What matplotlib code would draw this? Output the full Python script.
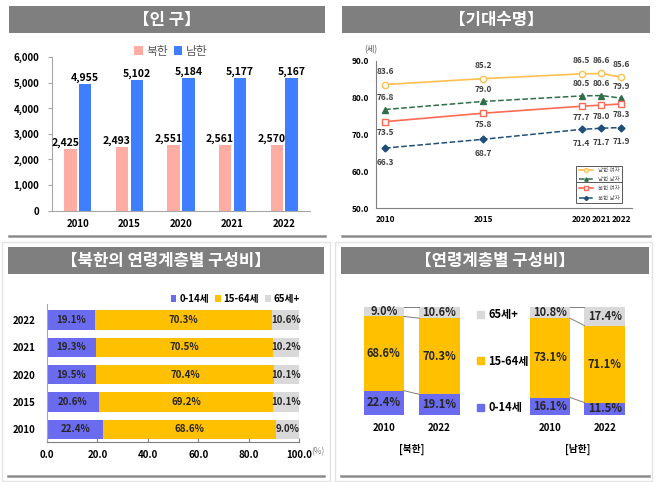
import matplotlib
matplotlib.use('Agg')
import matplotlib.pyplot as plt
from matplotlib.patches import Rectangle, Patch
from matplotlib.lines import Line2D

plt.rcParams['font.family'] = ['Noto Sans CJK KR', 'DejaVu Sans']

# ---- data -------------------------------------------------
pop_years = ['2010', '2015', '2020', '2021', '2022']
pop_north = [2425, 2493, 2551, 2561, 2570]
pop_south = [4955, 5102, 5184, 5177, 5167]

life_years = [2010, 2015, 2020, 2021, 2022]
south_f = [83.6, 85.2, 86.5, 86.6, 85.6]
south_m = [76.8, 79.0, 80.5, 80.6, 79.9]
north_f = [73.5, 75.8, 77.7, 78.0, 78.3]
north_m = [66.3, 68.7, 71.4, 71.7, 71.9]

age_years = ['2010', '2015', '2020', '2021', '2022']
age_014 = [22.4, 20.6, 19.5, 19.3, 19.1]
age_1564 = [68.6, 69.2, 70.4, 70.5, 70.3]
age_65 = [9.0, 10.1, 10.1, 10.2, 10.6]

comp_years = ['2010', '2022']
nk_014 = [22.4, 19.1]
nk_1564 = [68.6, 70.3]
nk_65 = [9.0, 10.6]
sk_014 = [16.1, 11.5]
sk_1564 = [73.1, 71.1]
sk_65 = [10.8, 17.4]

# ---- layout helpers (pixels -> figure fraction) ------------
W, H = 657, 482
fig = plt.figure(figsize=(6.57, 4.82), dpi=100)


def box(x, y, w, h):
    return [x / W, 1 - (y + h) / H, w / W, h / H]


def banner(x, y, w, h, text):
    fig.add_artist(Rectangle((x / W, 1 - (y + h) / H), w / W, h / H,
                             transform=fig.transFigure, facecolor='#7f7f7f', edgecolor='none'))
    fig.text((x + w / 2) / W, 1 - (y + h / 2) / H, text, color='white',
             fontsize=12, fontweight='bold', ha='center', va='center')


def hline(x0, x1, y):
    fig.add_artist(Line2D([x0 / W, x1 / W], [1 - y / H, 1 - y / H],
                          transform=fig.transFigure, color='#8c8c8c', lw=1.8))


def frame(x, y, w, h):
    fig.add_artist(Rectangle((x / W, 1 - (y + h) / H), w / W, h / H, transform=fig.transFigure,
                             facecolor='none', edgecolor='#e3e3e3', lw=1.0))


C_N = '#ffaca2'
C_S = '#3f7fff'
C_014 = '#6b6bf0'
C_1564 = '#ffc000'
C_65 = '#d9d9d9'

frame(2, 242, 328, 239)
frame(335, 242, 317, 239)

# ---- panel 1 : 인구 ----------------------------------------
banner(9, 6, 316, 27, '【인 구】')
hline(9, 325, 236)
ax1 = fig.add_axes(box(52, 57, 258, 153.7))
xs = list(range(len(pop_years)))
bw = 0.24
off = 0.145
ax1.bar([i - off for i in xs], pop_north, bw, color=C_N, label='북한')
ax1.bar([i + off for i in xs], pop_south, bw, color=C_S, label='남한')
for i in xs:
    ax1.text(i - off - 0.1, pop_north[i] + 40, f'{pop_north[i]:,}', ha='center', va='bottom',
             fontsize=7.5, fontweight='bold')
    ax1.text(i + off, pop_south[i] + 40, f'{pop_south[i]:,}', ha='center', va='bottom',
             fontsize=7.5, fontweight='bold')
ax1.set_xlim(-0.5, 4.5)
ax1.set_ylim(0, 6000)
ax1.set_yticks(range(0, 6001, 1000))
ax1.set_yticklabels([f'{v:,}' for v in range(0, 6001, 1000)], fontsize=7, fontweight='bold')
ax1.set_xticks(xs)
ax1.set_xticklabels(pop_years, fontsize=7, fontweight='bold')
ax1.tick_params(axis='x', length=0, pad=6)
ax1.tick_params(axis='y', length=3, color='#a6a6a6', pad=6)
for s in ['top', 'right']:
    ax1.spines[s].set_visible(False)
ax1.spines['left'].set_color('#a6a6a6')
ax1.spines['bottom'].set_color('#a6a6a6')
fig.legend(*ax1.get_legend_handles_labels(), loc='center', bbox_to_anchor=(171 / W, 1 - 51 / H),
           ncol=2, frameon=False, fontsize=8.5, handlelength=0.7, handleheight=0.7,
           handletextpad=0.3, columnspacing=0.5, labelcolor='#595959')

# ---- panel 2 : 기대수명 -------------------------------------
banner(342, 6, 308, 27, '【기대수명】')
hline(342, 650, 236)
ax2 = fig.add_axes(box(376, 61, 256, 147))
ax2.plot(life_years, south_f, color='#ffc04f', lw=1.2, marker='o', ms=4.5, mfc='white',
         mec='#ffc04f', label='남한 여자')
ax2.plot(life_years, south_m, color='#2f6e48', lw=1.1, ls='--', marker='^', ms=4,
         label='남한 남자')
ax2.plot(life_years, north_f, color='#ff6a55', lw=1.2, marker='s', ms=4.5, mfc='white',
         mec='#ff6a55', label='북한 여자')
ax2.plot(life_years, north_m, color='#1f4e79', lw=1.1, ls='--', marker='D', ms=3.5,
         label='북한 남자')
lab_off = [(south_f, 13), (south_m, 12), (north_f, -11), (north_m, -14)]
for vals, dy in lab_off:
    for x, v in zip(life_years, vals):
        ax2.annotate(f'{v:.1f}', (x, v), xytext=(0, dy * 0.72), textcoords='offset points',
                     ha='center', va='center', fontsize=6, fontweight='bold', color='#404040')
ax2.set_xlim(2009.54, 2022.56)
ax2.set_ylim(50, 90)
ax2.set_yticks(range(50, 91, 10))
ax2.set_yticklabels([f'{v:.1f}' for v in range(50, 91, 10)], fontsize=6, fontweight='bold')
ax2.set_xticks(life_years)
ax2.set_xticklabels([str(y) for y in life_years], fontsize=6, fontweight='bold')
ax2.tick_params(length=0, pad=5)
for s in ['top', 'right']:
    ax2.spines[s].set_visible(False)
ax2.spines['left'].set_color('#7f7f7f')
ax2.spines['bottom'].set_color('#7f7f7f')
fig.text(371 / W, 1 - 50 / H, '(세)', fontsize=6, color='#595959', ha='center', va='center')
leg2 = ax2.legend(loc='lower right', bbox_to_anchor=(0.961, 0.034), borderaxespad=0,
                  fontsize=4, handlelength=2.6, labelspacing=0.75, fancybox=False,
                  edgecolor='#595959', framealpha=1, borderpad=0.45, markerscale=0.6,
                  labelcolor='#595959')
leg2.get_frame().set_linewidth(0.7)
ax2.add_line(Line2D([0.785, 0.961], [0.175, 0.175], transform=ax2.transAxes,
                    color='#595959', lw=0.7, zorder=10))

# ---- panel 3 : 북한의 연령계층별 구성비 ---------------------
banner(8, 247, 316, 27, '【북한의 연령계층별 구성비】')
hline(8, 324, 476)
ax3 = fig.add_axes(box(47, 303.6, 252, 138.1))
ys = list(range(len(age_years)))
left2 = [a + b for a, b in zip(age_014, age_1564)]
ax3.barh(ys, age_014, 0.71, color=C_014, label='0-14세')
ax3.barh(ys, age_1564, 0.71, left=age_014, color=C_1564, label='15-64세')
ax3.barh(ys, age_65, 0.71, left=left2, color=C_65, label='65세+')
for i in ys:
    ax3.text(age_014[i] / 2, i, f'{age_014[i]:.1f}%', ha='center', va='center',
             fontsize=7, fontweight='bold', color='#262626')
    ax3.text(age_014[i] + age_1564[i] / 2, i, f'{age_1564[i]:.1f}%', ha='center', va='center',
             fontsize=7, fontweight='bold', color='#262626')
    ax3.text(left2[i] + age_65[i] / 2, i, f'{age_65[i]:.1f}%', ha='center', va='center',
             fontsize=7, fontweight='bold', color='#262626')
ax3.set_ylim(-0.45, 4.6)
ax3.set_xlim(0, 100)
ax3.set_yticks(ys)
ax3.set_yticklabels(age_years, fontsize=7, fontweight='bold')
ax3.set_xticks(range(0, 101, 20))
ax3.set_xticklabels([f'{v:.1f}' for v in range(0, 101, 20)], fontsize=7, fontweight='bold')
ax3.tick_params(axis='y', length=0, pad=8)
ax3.tick_params(axis='x', direction='in', length=3, color='#7f7f7f', pad=6)
for s in ['top', 'right']:
    ax3.spines[s].set_visible(False)
ax3.spines['left'].set_color('#a6a6a6')
ax3.spines['bottom'].set_color('#7f7f7f')
fig.text(311 / W, 1 - 452 / H, '(%)', fontsize=6, color='#7f7f7f', ha='left', va='center')
h3, l3 = ax3.get_legend_handles_labels()
fig.legend(h3, l3, loc='center right', bbox_to_anchor=(304 / W, 1 - 299 / H), ncol=3,
           frameon=False, handlelength=0.6, handleheight=0.6, handletextpad=0.3,
           columnspacing=0.6, borderaxespad=0, prop={'weight': 'bold', 'size': 7})

# ---- panel 4 : 연령계층별 구성비 ----------------------------
banner(341, 247, 308, 27, '【연령계층별 구성비】')
hline(341, 649, 476)
ax4 = fig.add_axes(box(341, 306.7, 308, 108.3))
ax4.set_xlim(0, 308)
ax4.set_ylim(0, 100)
ax4.axis('off')
bw4 = 40.5
groups = [([42.8, 98.5], nk_014, nk_1564, nk_65, '[북한]'),
          ([209.0, 263.7], sk_014, sk_1564, sk_65, '[남한]')]
for pos, p0, p1, p2, name in groups:
    b1 = [a + b for a, b in zip(p0, p1)]
    ax4.bar(pos, p0, bw4, color=C_014)
    ax4.bar(pos, p1, bw4, bottom=p0, color=C_1564)
    ax4.bar(pos, p2, bw4, bottom=b1, color=C_65)
    for j in range(2):
        ax4.text(pos[j], p0[j] / 2, f'{p0[j]:.1f}%', ha='center', va='center',
                 fontsize=8, fontweight='bold', color='#262626')
        ax4.text(pos[j], p0[j] + p1[j] / 2, f'{p1[j]:.1f}%', ha='center', va='center',
                 fontsize=8, fontweight='bold', color='#262626')
        ax4.text(pos[j], b1[j] + p2[j] / 2, f'{p2[j]:.1f}%', ha='center', va='center',
                 fontsize=8, fontweight='bold', color='#262626')
        ax4.text(pos[j], -12, comp_years[j], ha='center', va='center', fontsize=7,
                 fontweight='bold', clip_on=False)
    # series lines between the two bars
    for lv in [p0, b1, [a + b for a, b in zip(b1, p2)]]:
        ax4.plot([pos[0] + bw4 / 2, pos[1] - bw4 / 2], lv, color='#7f7f7f', lw=0.7)
    ax4.text((pos[0] + pos[1]) / 2, -32, name, ha='center', va='center', fontsize=7,
             fontweight='bold', clip_on=False)
h4 = [Patch(color=C_65, label='65세+'), Patch(color=C_1564, label='15-64세'),
      Patch(color=C_014, label='0-14세')]
fig.legend(handles=h4, loc='upper left', bbox_to_anchor=(473 / W, 1 - 304 / H),
           frameon=False, handlelength=0.6, handleheight=0.6, handletextpad=0.4,
           labelspacing=3.0, borderaxespad=0, prop={'weight': 'bold', 'size': 8})

fig.savefig('out.png', dpi=100)
